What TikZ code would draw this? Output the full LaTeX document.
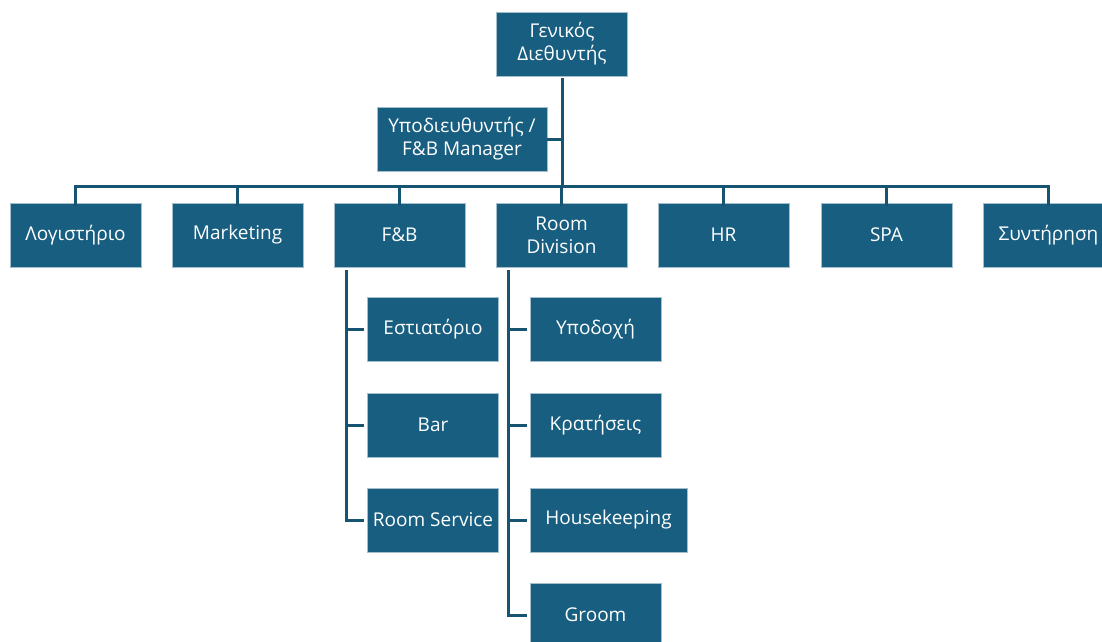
\documentclass[tikz,border=0pt]{standalone}
\usepackage{fontspec}
\setmainfont{Open Sans}
\definecolor{boxblue}{RGB}{24,94,128}
\definecolor{lineblue}{RGB}{22,84,114}
\begin{document}
\begin{tikzpicture}[x=1pt,y=-1pt,
  box/.style={rectangle, fill=boxblue, draw=boxblue!40!white, line width=0.6pt,
    minimum width=131pt, minimum height=64pt, inner sep=0pt, text=white,
    align=center, font=\fontsize{19}{23}\selectfont},
  conn/.style={draw=lineblue, line width=3pt}]
\useasboundingbox (0,0) rectangle (1102,641);
\clip (0,0) rectangle (1102,641);
% top
\node[box] (gm) at (562,44) {Γενικός\\Διεθυντής};
\node[box, minimum width=170pt] (sub) at (462,139) {Υποδιευθυντής /\\F\&B Manager};
% departments
\node[box] (acc) at (75.5,235) {Λογιστήριο};
\node[box] (mkt) at (237.5,235) {Marketing};
\node[box] (fb) at (399.5,235) {F\&B};
\node[box] (rd) at (561.5,235) {Room\\Division};
\node[box] (hr) at (723.5,235) {HR};
\node[box] (spa) at (886.5,235) {SPA};
\node[box] (mnt) at (1048.5,235) {Συντήρηση};
% F&B children
\node[box] (rest) at (433,329.5) {Εστιατόριο};
\node[box] (bar) at (433,425) {Bar};
\node[box] (rs) at (433,520) {Room Service};
% Room Division children
\node[box] (rec) at (595.5,329.5) {Υποδοχή};
\node[box] (res) at (595.5,425) {Κρατήσεις};
\node[box, minimum width=157pt] (hk) at (608.5,520) {Housekeeping};
\node[box] (groom) at (595.5,615) {Groom};
% connectors
\coordinate (bus) at (0,186.5);
\coordinate (gmtop) at (562,78);
\coordinate (busend) at (562,186.5);
\draw[conn] (gmtop) -- (busend);
\draw[conn] (sub.east) -- (sub.east -| busend);
\draw[conn, line cap=rect] (acc.north |- bus) -- (mnt.north |- bus);
\foreach \n in {acc,mkt,fb,rd,hr,spa,mnt}{
  \draw[conn] (\n.north |- bus) -- ([yshift=-3pt]\n.north);
}
\coordinate (fbtrunk) at (346,270);
\coordinate (rdtrunk) at (508,270);
\draw[conn] (fbtrunk) |- ([xshift=-3pt]rs.west);
\draw[conn] (fbtrunk |- rest.west) -- ([xshift=-3pt]rest.west);
\draw[conn] (fbtrunk |- bar.west) -- ([xshift=-3pt]bar.west);
\draw[conn] (rdtrunk) |- ([xshift=-3pt]groom.west);
\draw[conn] (rdtrunk |- rec.west) -- ([xshift=-3pt]rec.west);
\draw[conn] (rdtrunk |- res.west) -- ([xshift=-3pt]res.west);
\draw[conn] (rdtrunk |- hk.west) -- ([xshift=-3pt]hk.west);
\end{tikzpicture}
\end{document}
